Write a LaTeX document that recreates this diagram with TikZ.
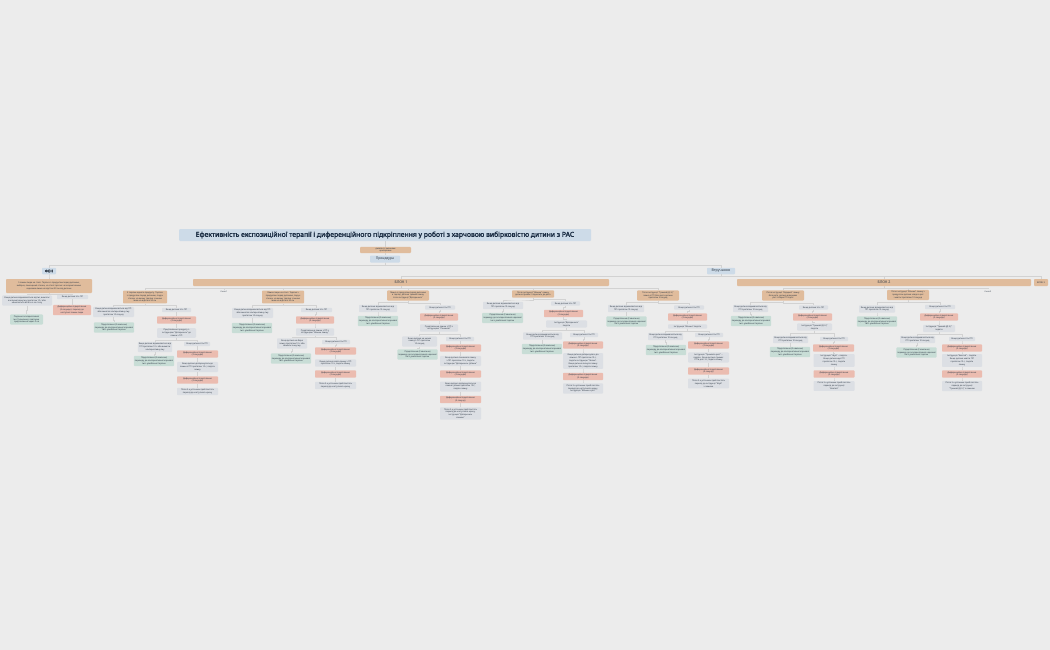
\documentclass[tikz,border=0pt]{standalone}
\usepackage{fontspec}
\setmainfont{Noto Sans}
\newfontfamily\tboldfont{Noto Sans}[FakeBold=2.2]
\newfontfamily\tsemifont{Noto Sans}[FakeBold=0.8]
\newfontfamily\tmedfont{Noto Sans}
\usetikzlibrary{calc}
\definecolor{bgC}{HTML}{ECECEC}
\definecolor{orC}{HTML}{E0BC9C}
\definecolor{grC}{HTML}{DCDFE4}
\definecolor{gnC}{HTML}{C8DDD6}
\definecolor{rdC}{HTML}{EBBCB0}
\definecolor{blC}{HTML}{CDDBE8}
\definecolor{lnC}{HTML}{D2D2D2}
\definecolor{txtC}{HTML}{2C3744}
\definecolor{titC}{HTML}{1C2E44}
\newcommand\myYes{Якщо дитина їсть ПП}
\newcommand\myDR{Диференційне підкріплення\\(3 секунди)}
\newcommand\myDRf{Диференційне підкріплення\\(5 секунд)}
\newcommand\myRein{Підкріплення (2 хвилини)\\переходу до альтернативної харчової\\їжі з улюбленої тарілки}
\newcommand\myNo{Якщо дитина відмовляється від\\ПП протягом 10 секунд}
\newcommand\myDone{Після 3-х успішних проб поспіль\\перехід до наступного кроку}
\tikzset{
 box/.style={rounded corners=0.8pt, inner xsep=1pt, inner ysep=1.2pt, align=center, font=\tmedfont\fontsize{2.1}{2.8}\selectfont, text=txtC},
 ob/.style={box, fill=orC},
 gb/.style={box, fill=grC},
 gn/.style={box, fill=gnC},
 rb/.style={box, fill=rdC},
 bb/.style={box, fill=blC},
 conn/.style={draw=lnC, line width=0.5pt},
}
\begin{document}
\begin{tikzpicture}[x=1pt,y=1pt]
\fill[bgC] (0,0) rectangle (1050,-650);
\useasboundingbox (0,0) rectangle (1050,-650);
% header
\node[bb, font=\tboldfont\fontsize{6.8}{8}\selectfont, text=titC, minimum width=412, minimum height=12, rounded corners=1pt] (title) at (385,-235) {Ефективність експозиційної терапії і диференційного підкріплення у роботі з харчовою вибірковістю дитини з РАС};
\node[ob, minimum width=51, inner ysep=0.6pt] (design) at (385.5,-250) {дизайн зі змінними\\критеріями};
\node[bb, font=\tmedfont\fontsize{3.4}{4}\selectfont, minimum width=30, minimum height=7] (proc) at (385,-259) {Процедура};
\node[bb, font=\tsemifont\fontsize{3.6}{4}\selectfont, minimum width=14, minimum height=6.5] (fon) at (49,-271) {ФОН};
\node[bb, font=\tmedfont\fontsize{3.6}{4}\selectfont, minimum width=28, minimum height=6.5] (vtr) at (721,-271) {Втручання};
\node[ob, font=\tmedfont\fontsize{3.6}{4}\selectfont, minimum width=416, minimum height=7] (b1) at (401,-282.5) {БЛОК 1};
\node[ob, font=\tmedfont\fontsize{3.6}{4}\selectfont, minimum width=294, minimum height=7] (b2) at (884,-282.5) {БЛОК 2};
\node[ob, font=\tmedfont\fontsize{2.2}{3}\selectfont, minimum width=14, minimum height=7] (b3) at (1041,-282.5) {БЛОК 3};
\node[box, font=\tmedfont\fontsize{2}{2.6}\selectfont] (l1) at (224,-292) {Сесія 1};
\node[box, font=\tmedfont\fontsize{2}{2.6}\selectfont] (l2) at (988,-291.5) {Сесія 2};
% FON subtree
\node[ob, minimum width=86, minimum height=14] (f0) at (49,-286) {5 ложок пюре на столі. Тарілка з продуктом перед дитиною,\\вибірка, поміщений столик, на столі тарілка з альтернативною\\харчовою їжею на відстані 50 см від дитини};
\node[gb, minimum width=50] (f1) at (27,-300.5) {Якщо дитина відмовляється від їжі, вимагає\\альтернативну їжу протягом 10 с або\\намагається встати з-за столу};
\node[gn, minimum width=33] (f1a) at (26.5,-319.5) {Подання альтернативної\\їжі (2 хвилини), повторне\\пред'явлення через 2 хв};
\node[gb, minimum width=31] (f2) at (72.5,-297) {\myYes};
\node[rb, minimum width=38] (f2a) at (72,-310) {Диференційне підкріплення\\(2 секунди) і перехід до\\наступної ложки пюре};
% A
\node[ob, minimum width=44] (A) at (145,-297) {З тарілки одного продукту. Тарілка\\з продуктом перед дитиною, поруч\\столик, на якому тарілка з іншою\\їжею на відстані 50 см};
\node[gb, minimum width=41] (A1) at (113.5,-312) {Якщо дитина відмовляється від ПП\\або вимагає альтернативну їжу\\протягом 10 секунд};
\node[gn, minimum width=40] (A1a) at (114,-327.5) {\myRein};
\node[gb, minimum width=29] (A2) at (176.5,-310) {\myYes};
\node[rb, minimum width=39] (A2a) at (176.5,-320) {\myDR};
\node[gb, minimum width=39] (A2b) at (176.5,-333) {Пред'явлення продукту з\\інструкцією "Доторкнись" до\\ложки з ПП};
\node[gb, minimum width=34] (A3) at (155,-347) {Якщо дитина відмовляється від\\ПП протягом 10 с або вимагає\\альтернативну їжу};
\node[gn, minimum width=36] (A3a) at (154,-361) {\myRein};
\node[gb, minimum width=26] (A4) at (197,-344) {\myYes};
\node[rb, minimum width=41] (A4a) at (197.5,-354) {\myDR};
\node[gb, minimum width=41] (A4b) at (197.5,-367) {Якщо дитина доторкнулась до\\ложки з ПП протягом 10 с, подати\\ложку};
\node[rb, minimum width=41] (A4c) at (197.5,-380) {\myDR};
\node[gb, minimum width=41] (A4d) at (197.5,-391.5) {\myDone};
% B
\node[ob, minimum width=42] (B) at (283,-297) {Ложка пюре на столі. Тарілка з\\продуктом перед дитиною, поруч\\столик, на якому тарілка з іншою\\їжею на відстані 30 см};
\node[gb, minimum width=41] (B1) at (252.5,-313) {Якщо дитина відмовляється від ПП\\або вимагає альтернативну їжу\\протягом 10 секунд};
\node[gn, minimum width=40] (B1a) at (252,-328) {\myRein};
\node[gb, minimum width=31] (B2) at (316.5,-310) {\myYes};
\node[rb, minimum width=38] (B2a) at (315,-320) {\myDR};
\node[gb, minimum width=38] (B2b) at (315,-332) {Пред'явлення ложки з ПП з\\інструкцією "Візьми ложку"};
\node[gb, minimum width=30] (B3) at (292,-343.5) {Якщо дитина не бере\\ложку протягом 10 с або\\вимагає іншу їжу};
\node[gn, minimum width=34] (B3a) at (291,-358.5) {\myRein};
\node[gb, minimum width=28] (B4) at (336,-342) {\myYes};
\node[rb, minimum width=41] (B4a) at (335.5,-351) {\myDR};
\node[gb, minimum width=41] (B4b) at (335.5,-363) {Якщо дитина взяла ложку з ПП\\протягом 10 с, подати ложку};
\node[rb, minimum width=41] (B4c) at (335.5,-374) {\myDR};
\node[gb, minimum width=41] (B4d) at (335.5,-385.5) {\myDone};
% C
\node[ob, minimum width=42] (C) at (408,-295.5) {Ложка з продуктом перед дитиною\\в тарілці, дитина тримає ложку\\після інструкції "Доторкнись"};
\node[gb, minimum width=38] (C1) at (378,-308.5) {\myNo};
\node[gn, minimum width=40] (C1a) at (378,-321) {\myRein};
\node[gb, minimum width=30] (C2) at (440,-307.5) {\myYes};
\node[rb, minimum width=38] (C2a) at (439,-317) {\myDR};
\node[gb, minimum width=38] (C2b) at (439,-328) {Пред'явлення ложки з ПП з\\інструкцією "Понюхай"};
\node[gb, minimum width=35] (C3) at (419.5,-341.5) {Якщо дитина не нюхає\\ложку з ПП протягом\\10 секунд};
\node[gn, minimum width=39] (C3a) at (417.5,-354.5) {\myRein};
\node[gb, minimum width=28] (C4) at (460,-339) {\myYes};
\node[rb, minimum width=41] (C4a) at (460.5,-348) {\myDR};
\node[gb, minimum width=41] (C4b) at (460.5,-361) {Якщо дитина понюхала ложку\\з ПП протягом 10 с, подати\\інструкцію "Доторкнись губами"};
\node[rb, minimum width=41] (C4c) at (460.5,-374) {\myDR};
\node[gb, minimum width=41] (C4d) at (460.5,-386.5) {Якщо дитина доторкнулась до\\ложки губами протягом 10 с,\\подати ложку};
\node[rb, minimum width=41] (C4e) at (460.5,-399.5) {\myDRf};
\node[gb, minimum width=41] (C4f) at (460.5,-413.5) {Після 3-х успішних проб поспіль\\перехід до наступного кроку,\\інструкція "Доторкнись\\язиком"};
% D
\node[ob, minimum width=42] (D) at (533,-294) {Після інструкції "Візьми" ложку\\дитина тримає і підносить до рота};
\node[gb, minimum width=40] (D1) at (503,-305.5) {\myNo};
\node[gn, minimum width=41] (D1a) at (502.5,-318) {\myRein};
\node[gb, minimum width=29] (D2) at (565.5,-303.5) {\myYes};
\node[rb, minimum width=39] (D2a) at (563.5,-313.5) {\myDR};
\node[gb, minimum width=41] (D2b) at (566.5,-324) {Інструкція "Доторкнись"\\подати};
\node[gb, minimum width=39] (D3) at (542.5,-336) {\myNo};
\node[gn, minimum width=40] (D3a) at (542,-349) {\myRein};
\node[gb, minimum width=28] (D4) at (584,-335) {\myYes};
\node[rb, minimum width=40] (D4a) at (583,-345) {\myDR};
\node[gb, minimum width=40] (D4b) at (583,-361) {Якщо дитина доторкнулась до\\ложки з ПП протягом 10 с,\\подати інструкцію "Лизни".\\Якщо дитина лизнула ложку\\протягом 10 с, подати ложку};
\node[rb, minimum width=40] (D4c) at (583,-376.5) {\myDR};
\node[gb, minimum width=40] (D4d) at (583,-388.5) {Після 3-х успішних проб поспіль\\перехід до наступного кроку,\\інструкція "Візьми в рот"};
% E
\node[ob, minimum width=42] (E) at (658,-295.5) {Після інструкції "Тримай (Д.З.)"\\ложка з ПП біля рота дитини\\протягом 3 секунд};
\node[gb, minimum width=36] (E1) at (626,-308.5) {\myNo};
\node[gn, minimum width=39] (E1a) at (626.5,-321.5) {\myRein};
\node[gb, minimum width=30] (E2) at (689,-307.5) {\myYes};
\node[rb, minimum width=39] (E2a) at (687.5,-317) {\myDR};
\node[gb, minimum width=39] (E2b) at (687.5,-326.5) {Інструкція "Візьми" подати};
\node[gb, minimum width=35] (E3) at (665.5,-336.5) {\myNo};
\node[gn, minimum width=38] (E3a) at (666,-350) {\myRein};
\node[gb, minimum width=28] (E4) at (709,-335) {\myYes};
\node[rb, minimum width=41] (E4a) at (708.5,-345) {\myDR};
\node[gb, minimum width=41] (E4b) at (708.5,-357.5) {Інструкція "Тримай в роті" –\\подати. Якщо дитина тримає\\ПП в роті 3 с, подати ложку};
\node[rb, minimum width=41] (E4c) at (708.5,-371) {\myDRf};
\node[gb, minimum width=41] (E4d) at (708.5,-383.5) {Після 3-х успішних проб поспіль\\перехід до інструкції "Жуй"\\з ложкою};
% F
\node[ob, minimum width=42] (F) at (783,-295.5) {Після інструкції "Відкрий" ложку\\біля рота, дитина відкриває\\рот та бере ПП в рот};
\node[gb, minimum width=35] (F1) at (750.5,-308.5) {\myNo};
\node[gn, minimum width=40] (F1a) at (751,-321) {\myRein};
\node[gb, minimum width=29] (F2) at (813.5,-307.5) {\myYes};
\node[rb, minimum width=39] (F2a) at (812.5,-317) {\myDR};
\node[gb, minimum width=35] (F2b) at (814.5,-327) {Інструкція "Тримай (Д.З.)"\\подати};
\node[gb, minimum width=35] (F3) at (790.5,-339.5) {\myNo};
\node[gn, minimum width=36] (F3a) at (790,-352) {\myRein};
\node[gb, minimum width=28] (F4) at (834,-339) {\myYes};
\node[rb, minimum width=41] (F4a) at (833.5,-348) {\myDR};
\node[gb, minimum width=41] (F4b) at (834,-360.5) {Інструкція "Жуй" – подати.\\Якщо дитина жує ПП\\протягом 10 с, подати\\ложку};
\node[rb, minimum width=41] (F4c) at (834,-374) {\myDR};
\node[gb, minimum width=41] (F4d) at (834,-386) {Після 3-х успішних проб поспіль\\перехід до інструкції\\"Ковтай"};
% G
\node[ob, minimum width=42] (G) at (908,-295) {Після інструкції "Візьми" ложку з\\продуктом дитина кладе в рот\\і ковтає протягом 10 секунд};
\node[gb, minimum width=36] (G1) at (877,-309) {\myNo};
\node[gn, minimum width=40] (G1a) at (877,-321.5) {\myRein};
\node[gb, minimum width=30] (G2) at (940,-307) {\myYes};
\node[rb, minimum width=38] (G2a) at (939,-317) {\myDR};
\node[gb, minimum width=32] (G2b) at (939,-328.5) {Інструкція "Тримай (Д.З.)"\\подати};
\node[gb, minimum width=35] (G3) at (917.5,-339.5) {\myNo};
\node[gn, minimum width=37] (G3a) at (916.5,-352.5) {\myRein};
\node[gb, minimum width=26] (G4) at (962,-339) {\myYes};
\node[rb, minimum width=40] (G4a) at (962,-348) {\myDR};
\node[gb, minimum width=40] (G4b) at (962,-360.5) {Інструкція "Ковтай" – подати.\\Якщо дитина ковтає ПП\\протягом 10 с, подати\\ложку};
\node[rb, minimum width=40] (G4c) at (962,-374) {\myDR};
\node[gb, minimum width=40] (G4d) at (962,-386) {Після 3-х успішних проб поспіль\\перехід до інструкції\\"Тримай (Д.З.)" з ложкою};
% connectors
\foreach \p/\c in {title/design,design/proc,proc/fon,proc/vtr,fon/f0,f0/f1,f0/f2,f1/f1a,f2/f2a,
  vtr/b1,vtr/b2,vtr/b3,b1/A,b1/l1,b1/B,b1/C,b1/D,b1/E,b2/F,b2/G,b2/l2,C4d/C4e,C4e/C4f}
  \draw[conn] (\p.south) |- ($(\p.south)!.5!(\c.north)$) -| (\c.north);
\foreach \X in {A,B,C,D,E,F,G}{
  \foreach \p/\c in {\X/\X1,\X/\X2,\X1/\X1a,\X2/\X2a,\X2a/\X2b,\X2b/\X3,\X2b/\X4,\X3/\X3a,\X4/\X4a,\X4a/\X4b,\X4b/\X4c,\X4c/\X4d}
    \draw[conn] (\p.south) |- ($(\p.south)!.5!(\c.north)$) -| (\c.north);
}
\end{tikzpicture}
\end{document}
